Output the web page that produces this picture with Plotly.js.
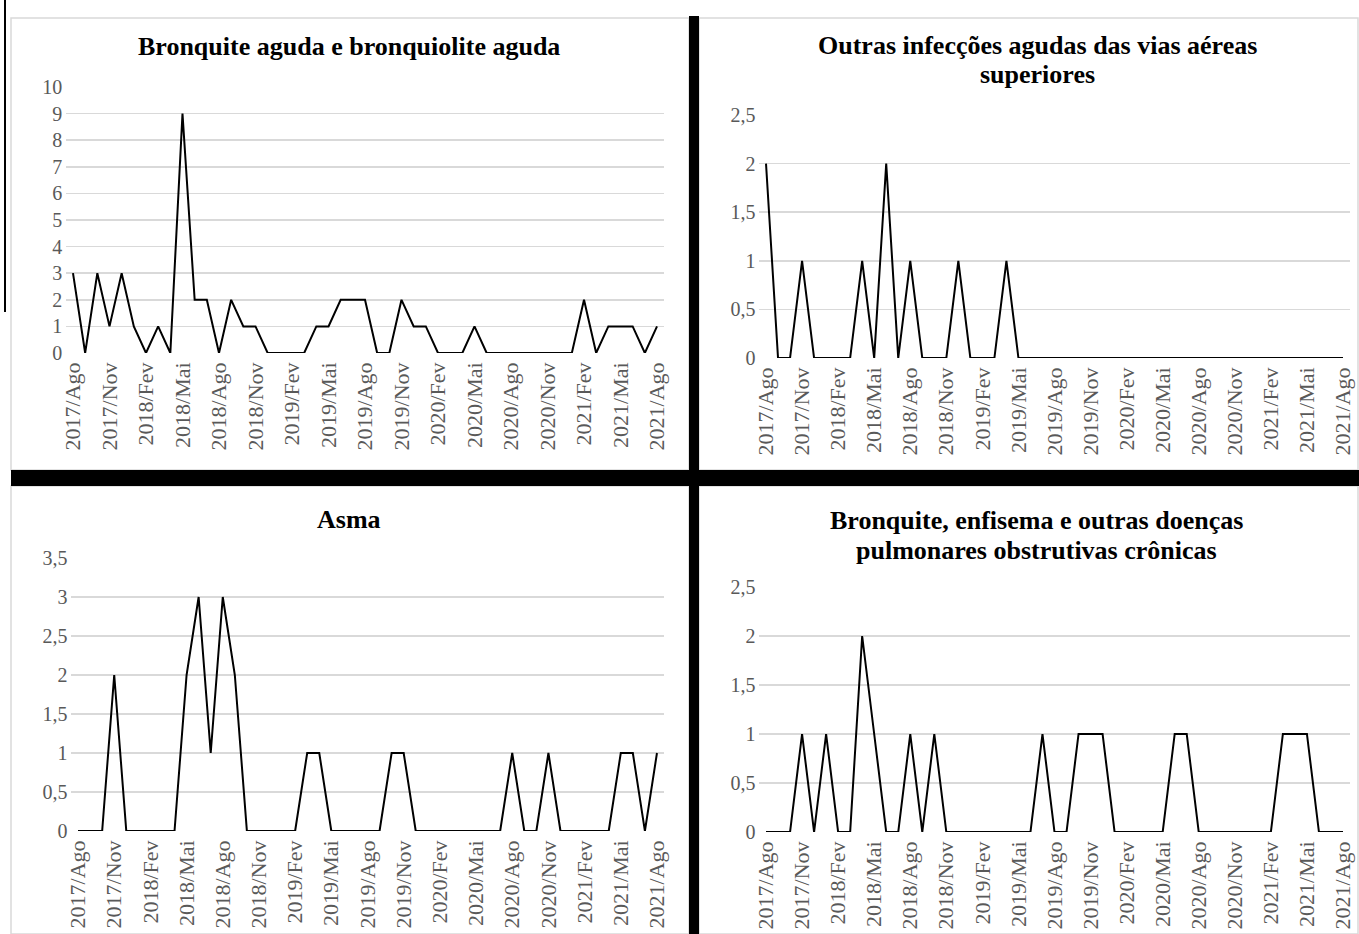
<!DOCTYPE html>
<html>
<head>
<meta charset="utf-8">
<script src="https://cdn.plot.ly/plotly-3.0.1.min.js"></script>
<style>
  html, body { margin: 0; padding: 0; background: #ffffff; }
  #chart { width: 1359px; height: 934px; }
</style>
</head>
<body>
<div id="chart"></div>
<script>
// ---- Data ----
const monthNames = ["Jan","Fev","Mar","Abr","Mai","Jun","Jul","Ago","Set","Out","Nov","Dez"];
const months = [];
for (let y = 2017, m = 7; !(y === 2021 && m === 8); ) {
  months.push(y + "/" + monthNames[m]);
  m++; if (m === 12) { m = 0; y++; }
}
const tickLabels = ["2017/Ago","2017/Nov","2018/Fev","2018/Mai","2018/Ago","2018/Nov","2019/Fev","2019/Mai",
  "2019/Ago","2019/Nov","2020/Fev","2020/Mai","2020/Ago","2020/Nov","2021/Fev","2021/Mai","2021/Ago"];

const titleLines = [
  ["Bronquite aguda e bronquiolite aguda"],
  ["Outras infecções agudas das vias aéreas", "superiores"],
  ["Asma"],
  ["Bronquite, enfisema e outras doenças", "pulmonares obstrutivas crônicas"]
];

const bronquiteAguda = [3,0,3,1,3,1,0,1,0,9, 2,2,0,2,1,1,0,0,0,0, 1,1,2,2,2,0,0,2,1,1, 0,0,0,1,0,0,0,0,0,0, 0,0,2,0,1,1,1,0,1];
const outrasInfeccoes = [2,0,0,1,0,0,0,0,1,0, 2,0,1,0,0,0,1,0,0,0, 1,0,0,0,0,0,0,0,0,0, 0,0,0,0,0,0,0,0,0,0, 0,0,0,0,0,0,0,0,0];
const asma = [0,0,0,2,0,0,0,0,0,2, 3,1,3,2,0,0,0,0,0,1, 1,0,0,0,0,0,1,1,0,0, 0,0,0,0,0,0,1,0,0,1, 0,0,0,0,0,1,1,0,1];
const dpoc = [0,0,0,1,0,1,0,0,2,1, 0,0,1,0,1,0,0,0,0,0, 0,0,0,1,0,0,1,1,1,0, 0,0,0,0,1,1,0,0,0,0, 0,0,0,1,1,1,0,0,0];

const yRanges = [[0,10],[0,2.5],[0,3.5],[0,2.5]];
const yDticks = [1, 0.5, 0.5, 0.5];
const series = [bronquiteAguda, outrasInfeccoes, asma, dpoc];

// ---- Layout geometry (pixels) ----
const W = 1359, H = 934;
const px = x => x / W;
const py = y => 1 - y / H;
// [left, right, top, bottom] plot areas in pixels
const areas = [
  [66.3, 663.7, 87, 353],
  [759.4, 1349.6, 115, 358],
  [71.4, 663.6, 558, 831],
  [759.4, 1349.6, 587, 832]
];
const titleX = [349, 1037, 349, 1036];
const titleY = [[46], [45, 74], [519], [520, 550]];

const FONT = '"Liberation Serif", "Times New Roman", serif';
const traces = [];
const layout = {
  width: W, height: H,
  margin: {l: 0, r: 0, t: 0, b: 0},
  paper_bgcolor: "#ffffff",
  plot_bgcolor: "rgba(0,0,0,0)",
  showlegend: false,
  separators: ",.",
  font: {family: FONT, color: "#595959", size: 20},
  annotations: [],
  shapes: []
};

series.forEach((s, i) => {
  const n = i + 1;
  const suf = n === 1 ? "" : String(n);
  traces.push({
    x: months, y: s, type: "scatter", mode: "lines",
    line: {color: "#000000", width: 2},
    xaxis: "x" + suf, yaxis: "y" + suf,
    hoverinfo: "skip"
  });
  const a = areas[i];
  layout["xaxis" + suf] = {
    domain: [px(a[0]), px(a[1])],
    anchor: "y" + suf,
    type: "category",
    categoryorder: "array", categoryarray: months,
    range: [-0.55, months.length - 1 + 0.55],
    tickmode: "array", tickvals: tickLabels, ticktext: tickLabels,
    tickangle: -90,
    ticklabelstandoff: 4,
    tickfont: {family: FONT, size: 22, color: "#595959"},
    showgrid: false, zeroline: false, showline: false, ticks: "",
    fixedrange: true
  };
  layout["yaxis" + suf] = {
    domain: [py(a[3]), py(a[2])],
    anchor: "x" + suf,
    range: yRanges[i], dtick: yDticks[i], tick0: 0,
    showgrid: true, gridcolor: "#d9d9d9", gridwidth: 1.5,
    zeroline: false, showline: false, ticks: "",
    ticklabelstandoff: 3,
    tickfont: {family: FONT, size: 20, color: "#595959"},
    fixedrange: true
  };
  titleLines[i].forEach((t, k) => {
    layout.annotations.push({
      xref: "paper", yref: "paper",
      x: px(titleX[i]), y: py(titleY[i][k]),
      xanchor: "center", yanchor: "middle",
      text: "<b>" + t + "</b>",
      showarrow: false,
      font: {family: FONT, size: 26, color: "#000000"}
    });
  });
});

// panel borders (light gray)
const boxes = [[11, 689, 18, 470], [699, 1358, 18, 470], [11, 689, 486, 934], [699, 1358, 486, 934]];
boxes.forEach(b => {
  layout.shapes.push({type: "rect", xref: "paper", yref: "paper", layer: "below",
    x0: px(b[0]), x1: px(b[1]), y0: py(b[3]), y1: py(b[2]),
    line: {color: "#d9d9d9", width: 1.5}, fillcolor: "rgba(0,0,0,0)"});
});
// black separators
layout.shapes.push({type: "rect", xref: "paper", yref: "paper",
  x0: px(689), x1: px(699), y0: py(934), y1: py(16), line: {width: 0}, fillcolor: "#000000"});
layout.shapes.push({type: "rect", xref: "paper", yref: "paper",
  x0: px(11), x1: px(1359), y0: py(486), y1: py(470), line: {width: 0}, fillcolor: "#000000"});
layout.shapes.push({type: "line", xref: "paper", yref: "paper",
  x0: px(5), x1: px(5), y0: py(312), y1: py(0), line: {color: "#000000", width: 2}});

Plotly.newPlot("chart", traces, layout, {staticPlot: true, displayModeBar: false});
</script>
</body>
</html>
